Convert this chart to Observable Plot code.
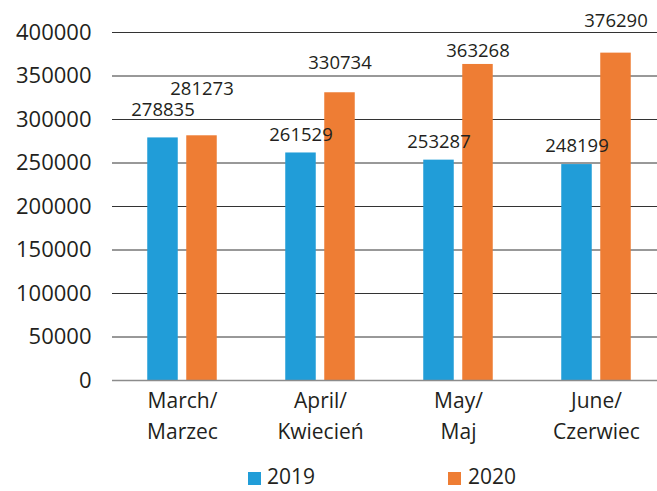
<!DOCTYPE html>
<html>
<head>
<meta charset="utf-8">
<script src="https://cdn.jsdelivr.net/npm/d3@7"></script>
<script src="https://cdn.jsdelivr.net/npm/@observablehq/plot@0.6"></script>
<style>
  body { margin: 0; background: #fff; font-family: "Open Sans", sans-serif; color: #231F20; }
  #wrap { width: 657px; height: 491px; position: relative; overflow: hidden; }
  #legend { position: absolute; left: 0; top: 460px; width: 657px; height: 31px; font-size: 21px; }
  .sw { position: absolute; top: 12px; width: 13px; height: 13px; }
  .lt { position: absolute; top: 4px; line-height: 24px; height: 24px; }
</style>
</head>
<body>
<div id="wrap"><div id="chart"></div><div id="legend"></div></div>
<script>
const months = ["March/\nMarzec", "April/\nKwiecień", "May/\nMaj", "June/\nCzerwiec"];
const years = ["2019", "2020"];
const values2019 = [278835, 261529, 253287, 248199];
const values2020 = [281273, 330734, 363268, 376290];
const yTicks = [0, 50000, 100000, 150000, 200000, 250000, 300000, 350000, 400000];
const colors = ["#219DD8", "#EE7D34"];

const rows2019 = months.map((m, i) => ({month: m, year: "2019", value: values2019[i]}));
const rows2020 = months.map((m, i) => ({month: m, year: "2020", value: values2020[i]}));

// label vertical offsets (layout only)
const dy2019 = [-28, -18, -18, -18];
const dy2020 = [-47, -30, -13, -32];

const labelMarks = [];
rows2019.forEach((r, i) => labelMarks.push(Plot.text([r], {x: "month", y: "value", text: d => String(d.value), dx: -19.5, dy: dy2019[i], fontSize: 18.5, fill: "#231F20"})));
rows2020.forEach((r, i) => labelMarks.push(Plot.text([r], {x: "month", y: "value", text: d => String(d.value), dx: 19.5, dy: dy2020[i], fontSize: 18.5, fill: "#231F20"})));

const chart = Plot.plot({
  width: 657,
  height: 460,
  marginLeft: 112,
  marginRight: 0,
  marginTop: 32,
  marginBottom: 80,
  style: {fontFamily: "Open Sans, sans-serif", color: "#231F20", background: "#fff", overflow: "visible"},
  x: {domain: months, range: [112, 666], padding: 0, label: null},
  y: {domain: [0, 400000], label: null},
  marks: [
    Plot.gridY(yTicks, {stroke: "#333333", strokeOpacity: 1, strokeWidth: 1}),
    Plot.barY(rows2019, {x: "month", y: "value", fill: colors[0], insetLeft: 34.25, insetRight: 73.25}),
    Plot.barY(rows2020, {x: "month", y: "value", fill: colors[1], insetLeft: 73.25, insetRight: 34.25}),
    Plot.ruleY([0], {stroke: "#8c8c8c", strokeWidth: 1.5}),
    Plot.axisY(yTicks, {tickSize: 0, tickPadding: 21, fontSize: 22, tickFormat: d => String(d), label: null, fill: "#231F20"}),
    Plot.axisX({tickSize: 0, tickPadding: 5, fontSize: 21, lineHeight: 1.48, label: null, fill: "#231F20"}),
    ...labelMarks
  ]
});
document.getElementById("chart").appendChild(chart);

const legend = document.getElementById("legend");
const legendPos = [[248, 267], [448, 468]];
years.forEach((y, i) => {
  const s = document.createElement("div");
  s.className = "sw";
  s.style.left = legendPos[i][0] + "px";
  s.style.background = colors[i];
  legend.appendChild(s);
  const t = document.createElement("div");
  t.className = "lt";
  t.style.left = legendPos[i][1] + "px";
  t.textContent = y;
  legend.appendChild(t);
});
</script>
</body>
</html>
